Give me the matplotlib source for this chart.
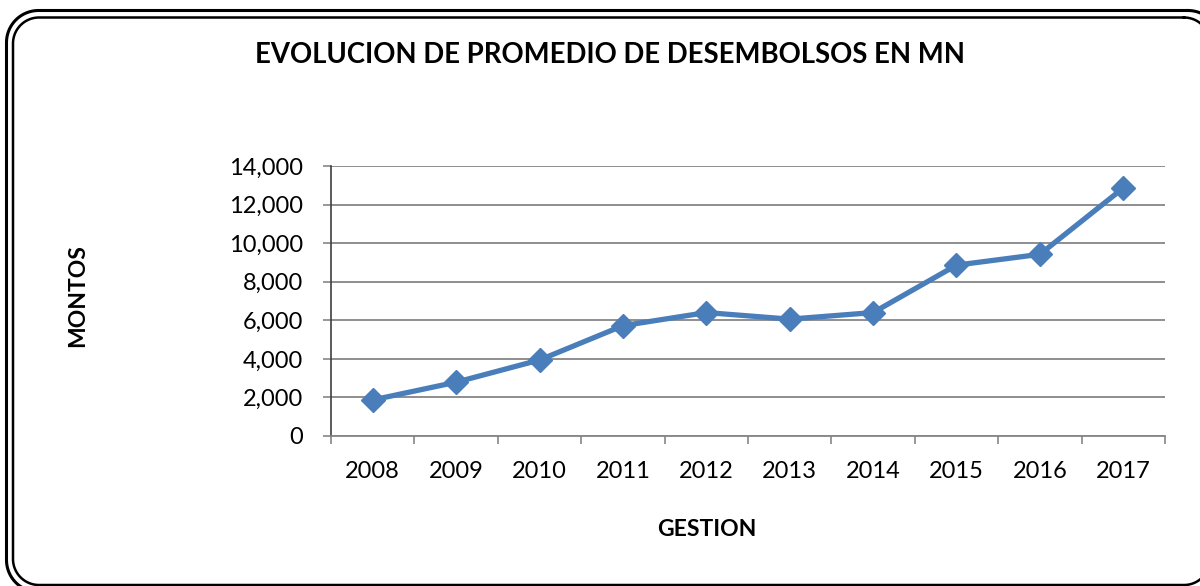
import matplotlib
matplotlib.use("Agg")
import numpy as np
import matplotlib.pyplot as plt
from matplotlib.lines import Line2D
from matplotlib.transforms import IdentityTransform
from matplotlib.ticker import FuncFormatter, FixedLocator

years = ["2008", "2009", "2010", "2011", "2012", "2013", "2014", "2015", "2016", "2017"]
montos = [1870, 2790, 3940, 5720, 6400, 6060, 6400, 8860, 9420, 12860]
y_ticks = [0, 2000, 4000, 6000, 8000, 10000, 12000, 14000]

title = "EVOLUCION DE PROMEDIO DE DESEMBOLSOS EN MN"
xlabel = "GESTION"
ylabel = "MONTOS"

W, H = 1200, 586
plt.rcParams['font.family'] = ['Lato', 'DejaVu Sans']
fig = plt.figure(figsize=(W / 100, H / 100), dpi=100)


def rounded_rect(l, t, r, b, rad, n=30):
    """Closed polyline of a rounded rectangle in pixel coords (y down)."""
    pts = []
    corners = [(r - rad, t + rad, -90, 0), (r - rad, b - rad, 0, 90),
               (l + rad, b - rad, 90, 180), (l + rad, t + rad, 180, 270)]
    for cx, cy, a0, a1 in corners:
        a = np.radians(np.linspace(a0, a1, n))
        pts.extend(zip(cx + rad * np.cos(a), cy + rad * np.sin(a)))
    pts.append(pts[0])
    xs = np.array([p[0] for p in pts])
    ys = H - np.array([p[1] for p in pts])
    return xs, ys


ident = IdentityTransform()
for (l, t, r, b, rad, lw) in [(6.5, 10.5, 1220, 592, 32, 2.2), (13, 17.5, 1210, 585, 26, 1.8)]:
    xs, ys = rounded_rect(l, t, r, b, rad)
    fig.lines.append(Line2D(xs, ys, transform=ident, color="black", lw=lw,
                            solid_joinstyle="round"))

ax = fig.add_axes([331 / W, 1 - 436 / H, (1165 - 331) / W, (436 - 166) / H])
x = list(range(len(years)))
ax.plot(x, montos, color="#4A7EBB", lw=3.8, marker="D", markersize=12,
        markeredgecolor="#4A7EBB", markerfacecolor="#4A7EBB", zorder=3, clip_on=False)

ax.set_xlim(-0.5, len(years) - 0.5)
ax.set_ylim(0, 14000)
ax.set_yticks(y_ticks)
ax.yaxis.set_major_formatter(FuncFormatter(lambda v, p: f"{int(v):,}"))
ax.grid(axis="y", color="#868686", lw=1.3)
ax.set_axisbelow(True)

ax.set_xticks(x)
ax.set_xticklabels(years)
ax.xaxis.set_minor_locator(FixedLocator([i - 0.5 for i in range(len(years) + 1)]))
ax.tick_params(axis="x", which="major", length=0, pad=18, labelsize=17, colors="black")
ax.tick_params(axis="x", which="minor", length=6, width=1.2, color="#868686", direction="out")
ax.tick_params(axis="y", length=6, width=1.2, color="#868686", direction="out", labelsize=17,
               pad=14, labelcolor="black")

for s in ["top", "right"]:
    ax.spines[s].set_visible(False)
ax.spines["left"].set_color("#404040")
ax.spines["left"].set_linewidth(1.2)
ax.spines["bottom"].set_color("#868686")
ax.spines["bottom"].set_linewidth(1.3)

fig.text(610 / W, 1 - 55 / H, title, ha="center", va="center", fontsize=19.8, fontweight="bold")
fig.text(707 / W, 1 - 530 / H, xlabel, ha="center", va="center", fontsize=16.5, fontweight="bold")
fig.text(78 / W, 1 - 296 / H, ylabel, ha="center", va="center", fontsize=16.5, fontweight="bold",
         rotation=90)

fig.savefig("out.png", dpi=100)
